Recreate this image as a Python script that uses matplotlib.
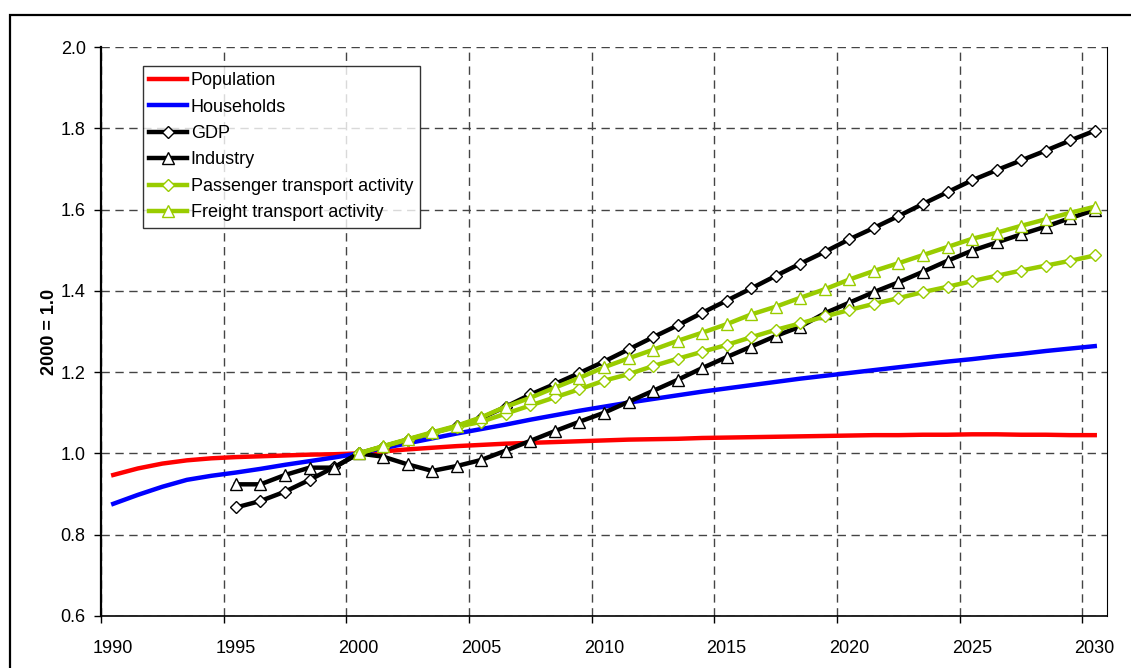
"""EU baseline drivers index chart (2000 = 1.0)."""

import matplotlib
matplotlib.use("Agg")
import matplotlib.pyplot as plt
import numpy as np
from matplotlib.patches import Rectangle

plt.rcParams["font.family"] = ["Liberation Sans", "DejaVu Sans"]

# data: annual values, index 2000 = 1.0
YEARS_ALL = list(range(1990, 2031))
YEARS_1995 = list(range(1995, 2031))
YEARS_2000 = list(range(2000, 2031))

POPULATION = [
    0.947, 0.963, 0.975, 0.983, 0.988, 0.991, 0.993, 0.995, 0.997, 0.998, 1.000,
    1.005, 1.010, 1.014, 1.018, 1.021, 1.024, 1.026, 1.028, 1.030, 1.032,
    1.034, 1.035, 1.036, 1.038, 1.039, 1.040, 1.041, 1.042, 1.043, 1.044,
    1.045, 1.045, 1.046, 1.046, 1.047, 1.047, 1.046, 1.046, 1.045, 1.045,
]
HOUSEHOLDS = [
    0.876, 0.898, 0.918, 0.935, 0.945, 0.953, 0.962, 0.972, 0.981, 0.990, 1.000,
    1.013, 1.025, 1.037, 1.049, 1.060, 1.071, 1.083, 1.094, 1.105, 1.115,
    1.125, 1.134, 1.143, 1.152, 1.160, 1.168, 1.176, 1.184, 1.191, 1.198,
    1.205, 1.212, 1.219, 1.226, 1.232, 1.239, 1.245, 1.252, 1.258, 1.264,
]
GDP = [
    0.867, 0.883, 0.906, 0.935, 0.966, 1.000,
    1.017, 1.034, 1.050, 1.067, 1.087, 1.115, 1.145, 1.171, 1.198, 1.226,
    1.256, 1.286, 1.315, 1.346, 1.376, 1.406, 1.437, 1.467, 1.496, 1.527,
    1.555, 1.584, 1.614, 1.643, 1.672, 1.697, 1.721, 1.745, 1.770, 1.794,
]
INDUSTRY = [
    0.924, 0.924, 0.947, 0.965, 0.965, 1.000,
    0.992, 0.973, 0.957, 0.969, 0.984, 1.007, 1.031, 1.055, 1.078, 1.100,
    1.127, 1.154, 1.181, 1.210, 1.237, 1.263, 1.289, 1.312, 1.345, 1.371,
    1.397, 1.421, 1.447, 1.474, 1.499, 1.519, 1.539, 1.558, 1.579, 1.599,
]
PASSENGER = [
    1.000, 1.017, 1.034, 1.050, 1.065, 1.078, 1.098, 1.118, 1.138, 1.158, 1.179,
    1.195, 1.215, 1.233, 1.250, 1.267, 1.286, 1.304, 1.320, 1.337, 1.353,
    1.368, 1.382, 1.397, 1.410, 1.424, 1.437, 1.450, 1.462, 1.474, 1.487,
]
FREIGHT = [
    1.000, 1.018, 1.035, 1.052, 1.068, 1.089, 1.115, 1.137, 1.162, 1.186, 1.212,
    1.234, 1.255, 1.277, 1.297, 1.318, 1.342, 1.361, 1.383, 1.404, 1.428,
    1.449, 1.468, 1.488, 1.508, 1.528, 1.543, 1.560, 1.576, 1.592, 1.607,
]

X_TICKS = list(range(1990, 2031, 5))
Y_TICKS = [0.6, 0.8, 1.0, 1.2, 1.4, 1.6, 1.8, 2.0]

RED = "#FF0000"
BLUE = "#0000FF"
BLACK = "#000000"
GREEN = "#99CC00"


def pos(years):
    # Excel category axis: points and labels sit between the tick marks
    return np.array(years) + 0.5


fig = plt.figure(figsize=(11.31, 6.68), dpi=100)
ax = fig.add_axes([101 / 1131, 1 - 616 / 668, 1006 / 1131, 569 / 668])

lw = 3.2
ax.plot(pos(YEARS_ALL), POPULATION, color=RED, lw=lw, label="Population", zorder=3)
ax.plot(pos(YEARS_ALL), HOUSEHOLDS, color=BLUE, lw=lw, label="Households", zorder=3)
ax.plot(pos(YEARS_1995), GDP, color=BLACK, lw=lw, marker="D", ms=6,
        mfc="white", mec=BLACK, mew=1.0, label="GDP", zorder=3)
ax.plot(pos(YEARS_1995), INDUSTRY, color=BLACK, lw=lw, marker="^", ms=8,
        mfc="white", mec=BLACK, mew=1.0, label="Industry", zorder=3)
ax.plot(pos(YEARS_2000), PASSENGER, color=GREEN, lw=lw, marker="D", ms=6,
        mfc="white", mec=GREEN, mew=1.0, label="Passenger transport activity", zorder=3)
ax.plot(pos(YEARS_2000), FREIGHT, color=GREEN, lw=lw, marker="^", ms=8,
        mfc="white", mec=GREEN, mew=1.0, label="Freight transport activity", zorder=3)

ax.set_xlim(1990, 2031)
ax.set_ylim(0.6, 2.0)
# tick marks and gridlines on the year boundaries, labels centred in the category
ax.set_xticks(X_TICKS)
ax.set_xticklabels([""] * len(X_TICKS))
ax.set_xticks(pos(X_TICKS), [str(y) for y in X_TICKS], minor=True)
ax.set_yticks(Y_TICKS)
ax.set_yticklabels([f"{v:.1f}" for v in Y_TICKS])
ax.tick_params(axis="both", labelsize=13, direction="out", length=5, width=1, colors=BLACK)
ax.tick_params(axis="x", which="minor", length=0, pad=17, labelsize=13)
ax.tick_params(axis="y", pad=6)

ax.grid(True, which="major", color="#444444", lw=1.0, linestyle=(0, (6, 4)), zorder=1)
ax.set_axisbelow(True)

ax.spines["top"].set_visible(False)
ax.spines["left"].set_linewidth(1.6)
ax.spines["bottom"].set_linewidth(1.2)
ax.spines["right"].set_linewidth(0.8)

ax.set_ylabel("2000 = 1.0", fontsize=13, fontweight="bold", labelpad=2)

leg = ax.legend(loc="upper left", bbox_to_anchor=((143 - 101) / 1006, (616 - 66) / 569),
                borderaxespad=0, fontsize=13, frameon=True, fancybox=False,
                edgecolor=BLACK, handlelength=2.1, handletextpad=0.2,
                labelspacing=0.52, borderpad=0.35)
leg.get_frame().set_linewidth(1.0)

# outer chart border (runs off the right and bottom edges)
fig.patches.append(Rectangle((10 / 1131, -0.1), 1.2, 1.1 - 15 / 668, transform=fig.transFigure,
                             fill=False, edgecolor=BLACK, lw=1.6, clip_on=False))

fig.savefig("out.png", dpi=100)
